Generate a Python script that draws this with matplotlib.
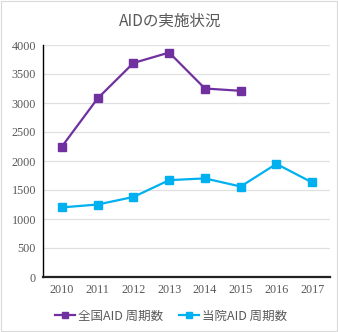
import matplotlib
matplotlib.use("Agg")
import matplotlib.pyplot as plt
from matplotlib.patches import Rectangle

years = ["2010", "2011", "2012", "2013", "2014", "2015", "2016", "2017"]
national = [2250, 3080, 3690, 3870, 3250, 3210]
hospital = [1200, 1250, 1380, 1670, 1700, 1560, 1950, 1630]
yticks = [0, 500, 1000, 1500, 2000, 2500, 3000, 3500, 4000]
title = "AIDの実施状況"
labels = ["全国AID 周期数", "当院AID 周期数"]

cjk = ["Noto Sans CJK JP", "DejaVu Sans"]
serif = ["Liberation Serif", "DejaVu Serif"]

fig = plt.figure(figsize=(3.38, 3.32), dpi=100)
fig.patch.set_facecolor("white")
fig.add_artist(Rectangle((0.003, 0.003), 0.994, 0.994, transform=fig.transFigure,
                         fill=False, edgecolor="#d9d9d9", linewidth=0.8))
W, H = 338, 332
ax = fig.add_axes([43 / W, 1 - 277 / H, (330 - 43) / W, (277 - 45) / H])

x = list(range(len(years)))
ax.plot(x[:len(national)], national, color="#7030A0", marker="s", markersize=5.5,
        linewidth=1.6, label=labels[0])
ax.plot(x, hospital, color="#00B0F0", marker="s", markersize=5.5,
        linewidth=1.6, label=labels[1])

ax.set_xlim(-0.53, 7.5)
ax.set_ylim(0, 4000)
ax.set_yticks(yticks)
ax.set_xticks(x)
ax.set_xticklabels(years)
for lab in ax.get_xticklabels() + ax.get_yticklabels():
    lab.set_fontfamily(serif)
    lab.set_fontsize(8.7)
    lab.set_color("#595959")
ax.tick_params(length=0, pad=5)
ax.grid(axis="y", color="#e0e0e0", linewidth=0.9)
ax.set_axisbelow(True)
for s in ["top", "right"]:
    ax.spines[s].set_visible(False)
ax.spines["left"].set_color("black")
ax.spines["left"].set_linewidth(1.0)
ax.spines["bottom"].set_color("#222222")
ax.spines["bottom"].set_linewidth(1.6)

fig.text(170 / W, 1 - 21 / H, title, ha="center", va="center", fontsize=11.2,
         color="#595959", family=cjk)

leg = fig.legend(loc="center", bbox_to_anchor=(171 / W, 1 - 316 / H), ncol=2,
                 frameon=False, prop={"family": cjk, "size": 9},
                 handlelength=1.6, columnspacing=1.3, handletextpad=0.2,
                 markerscale=0.8)
for t in leg.get_texts():
    t.set_color("#595959")

fig.savefig("out.png", dpi=100)
